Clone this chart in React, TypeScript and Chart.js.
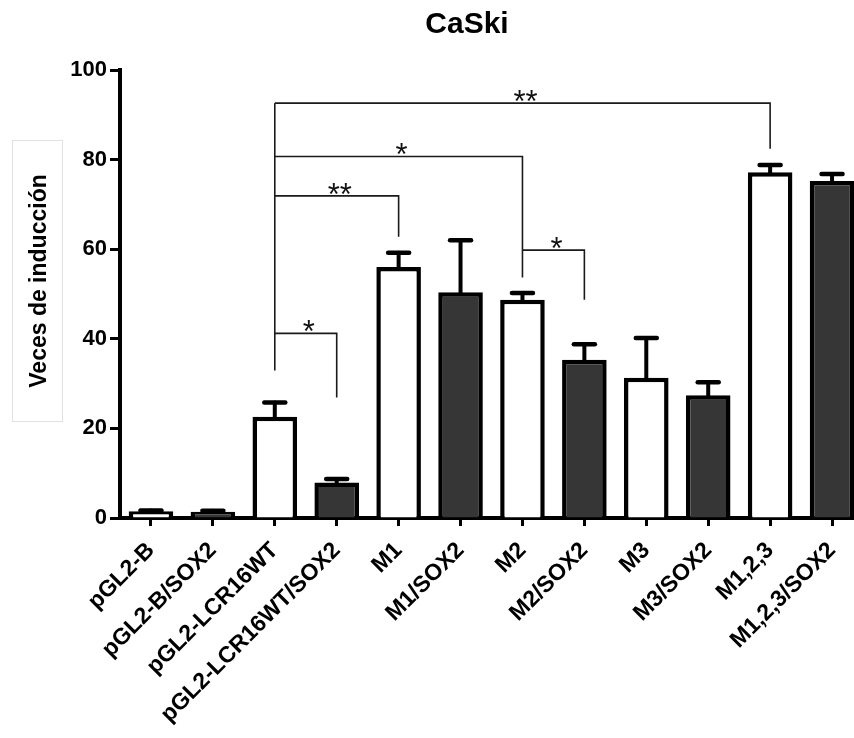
import React, { useEffect, useRef } from "react";
import { Chart, registerables } from "chart.js";

Chart.register(...registerables);

const categories = [
  "pGL2-B",
  "pGL2-B/SOX2",
  "pGL2-LCR16WT",
  "pGL2-LCR16WT/SOX2",
  "M1",
  "M1/SOX2",
  "M2",
  "M2/SOX2",
  "M3",
  "M3/SOX2",
  "M1,2,3",
  "M1,2,3/SOX2",
];
const values = [1.5, 1.4, 22.6, 7.9, 56.0, 50.4, 48.7, 35.3, 31.3, 27.4, 77.2, 75.2];
const errors = [0.2, 0.2, 3.2, 0.8, 3.2, 11.6, 1.5, 3.5, 8.9, 2.9, 1.6, 1.6];
const withSox2 = [false, true, false, true, false, true, false, true, false, true, false, true];

const yMin = 0;
const yMax = 100;
const yStep = 20;

// significance brackets (category index from -> to, height, right leg bottom)
const bracketFrom = [2, 2, 2, 6, 2];
const bracketTo = [10, 6, 4, 7, 3];
const bracketY = [92.6, 80.7, 71.9, 59.8, 41.2];
const bracketEnd = [82.4, 53.7, 62.8, 48.7, 26.9];
const bracketLabel = ["**", "*", "**", "*", "*"];
const sharedLegIndex = 2;
const sharedLegBottom = 32.9;

const title = "CaSki";
const yTitle = "Veces de inducción";

const FONT = "'Liberation Sans', Arial, Helvetica, sans-serif";

const errorBarPlugin = {
  id: "errorBars",
  afterDatasetsDraw(chart: any) {
    const ctx = chart.ctx;
    const meta = chart.getDatasetMeta(0);
    const y = chart.scales.y;
    ctx.save();
    ctx.strokeStyle = "#000";
    ctx.lineCap = "round";
    meta.data.forEach((bar: any, i: number) => {
      const base = y.getPixelForValue(values[i]);
      const top = y.getPixelForValue(values[i] + errors[i]);
      const half = 10.5;
      ctx.lineWidth = 4;
      ctx.beginPath();
      ctx.moveTo(bar.x, base);
      ctx.lineTo(bar.x, top);
      ctx.stroke();
      ctx.lineWidth = 4.5;
      ctx.beginPath();
      ctx.moveTo(bar.x - half, top);
      ctx.lineTo(bar.x + half, top);
      ctx.stroke();
    });
    ctx.restore();
  },
};

const annotationPlugin = {
  id: "annotations",
  afterDraw(chart: any) {
    const ctx = chart.ctx;
    const x = chart.scales.x;
    const y = chart.scales.y;
    ctx.save();
    ctx.strokeStyle = "#1a1a1a";
    ctx.lineWidth = 1.6;
    ctx.lineCap = "butt";
    const lx = x.getPixelForValue(sharedLegIndex);
    ctx.beginPath();
    ctx.moveTo(lx, y.getPixelForValue(Math.max(...bracketY)));
    ctx.lineTo(lx, y.getPixelForValue(sharedLegBottom));
    ctx.stroke();
    for (let i = 0; i < bracketFrom.length; i++) {
      const x1 = x.getPixelForValue(bracketFrom[i]);
      const x2 = x.getPixelForValue(bracketTo[i]);
      const yy = y.getPixelForValue(bracketY[i]);
      const ye = y.getPixelForValue(bracketEnd[i]);
      ctx.beginPath();
      ctx.moveTo(x1, yy);
      ctx.lineTo(x2, yy);
      ctx.lineTo(x2, ye);
      ctx.stroke();
      ctx.fillStyle = "#111";
      ctx.font = `31px ${FONT}`;
      ctx.textAlign = "center";
      ctx.textBaseline = "alphabetic";
      ctx.fillText(bracketLabel[i], (x1 + x2) / 2 + 3, yy + 9);
    }
    ctx.fillStyle = "#000";
    ctx.font = `bold 30px ${FONT}`;
    ctx.textAlign = "center";
    ctx.textBaseline = "middle";
    ctx.fillText(title, 467, 25);
    ctx.strokeStyle = "#e2e2e2";
    ctx.lineWidth = 1;
    ctx.strokeRect(12.5, 140.5, 50, 281);
    ctx.translate(40, 281);
    ctx.rotate(-Math.PI / 2);
    ctx.fillStyle = "#000";
    ctx.font = `bold 23px ${FONT}`;
    ctx.textAlign = "center";
    ctx.textBaseline = "middle";
    ctx.fillText(yTitle, 0, 0);
    ctx.restore();
  },
};

export default function App() {
  const ref = useRef<HTMLCanvasElement>(null);
  useEffect(() => {
    if (!ref.current) return;
    const chart = new Chart(ref.current, {
      type: "bar",
      data: {
        labels: categories,
        datasets: [
          {
            data: values,
            backgroundColor: withSox2.map((s) => (s ? "#363636" : "#ffffff")),
            borderColor: "#000",
            borderWidth: 4.5,
            borderSkipped: "bottom",
            barPercentage: 0.72,
            categoryPercentage: 1,
          },
        ],
      },
      options: {
        responsive: false,
        animation: false,
        devicePixelRatio: 1,
        layout: { padding: { top: 70, right: 17, bottom: 0, left: 0 } },
        plugins: {
          legend: { display: false },
          tooltip: { enabled: false },
          title: { display: false },
        },
        scales: {
          x: {
            z: 1,
            offset: true,
            afterFit: (s: any) => {
              s.height = 220;
            },
            border: { display: true, color: "#000", width: 4 },
            grid: {
              display: true,
              offset: false,
              drawOnChartArea: false,
              drawTicks: true,
              tickLength: 8,
              tickWidth: 3,
              tickColor: "#000",
              color: "#000",
            },
            ticks: {
              autoSkip: false,
              maxRotation: 45,
              minRotation: 45,
              padding: 11,
              color: "#000",
              font: { family: FONT, size: 23, weight: "bold" },
            },
          },
          y: {
            z: 1,
            min: yMin,
            max: yMax,
            afterFit: (s: any) => {
              s.width = 120;
            },
            border: { display: true, color: "#000", width: 4 },
            grid: {
              display: true,
              drawOnChartArea: false,
              drawTicks: true,
              tickLength: 10,
              tickWidth: 3,
              tickColor: "#000",
              color: "#000",
            },
            ticks: {
              stepSize: yStep,
              padding: 3,
              color: "#000",
              font: { family: FONT, size: 22, weight: "bold" },
            },
          },
        },
      },
      plugins: [errorBarPlugin, annotationPlugin],
    });
    return () => chart.destroy();
  }, []);
  return (
    <div
      style={{
        position: "absolute",
        left: 0,
        top: 0,
        width: 854,
        height: 738,
        overflow: "hidden",
        background: "#fff",
      }}
    >
      <canvas ref={ref} width={880} height={738} style={{ display: "block", width: 880, height: 738 }} />
    </div>
  );
}
